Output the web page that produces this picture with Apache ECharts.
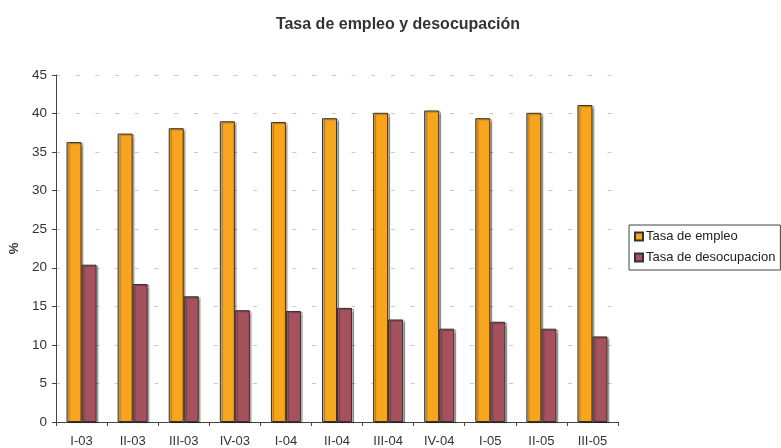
<!DOCTYPE html>
<html><head><meta charset="utf-8">
<script src="https://cdn.jsdelivr.net/npm/echarts@6/dist/echarts.min.js"></script>
<style>html,body{margin:0;padding:0;background:#fff}#c{width:781px;height:448px}</style>
</head><body><div id="c"></div>
<script>
var categories = ["I-03","II-03","III-03","IV-03","I-04","II-04","III-04","IV-04","I-05","II-05","III-05"];
var empleo = [36.3,37.4,38.1,39.0,38.9,39.4,40.1,40.4,39.4,40.1,41.1];
var desocupacion = [20.4,17.9,16.3,14.5,14.4,14.8,13.3,12.1,13.0,12.1,11.1];
var seriesNames = ["Tasa de empleo","Tasa de desocupacion"];
var titleText = "Tasa de empleo y desocupación";

var chart = echarts.init(document.getElementById('c'), null, {renderer:'canvas'});
var font = "Liberation Sans, Arial, sans-serif";
var barStyle = function(c){ return {color:c, borderColor:'#333', borderWidth:1, shadowColor:'rgba(0,0,0,0.3)', shadowOffsetX:2, shadowOffsetY:1, shadowBlur:1}; };
chart.setOption({
  animation:false,
  textStyle:{fontFamily:font},
  title:{text:titleText, left:393, top:12, textAlign:'center', textStyle:{fontSize:16, fontWeight:'bold', color:'#333', fontFamily:font}},
  legend:{orient:'vertical', left:629, top:225, itemWidth:8, itemHeight:8, itemGap:8, padding:[5,5,6,5],
    borderColor:'#444', borderWidth:1, icon:'rect',
    textStyle:{fontSize:13, color:'#222', fontFamily:font, padding:[0,0,0,-2]},
    data:seriesNames},
  grid:{left:56, right:163, top:75, bottom:25, containLabel:false},
  xAxis:{type:'category', data:categories, boundaryGap:true,
    axisLine:{lineStyle:{color:'#444', width:1}},
    axisTick:{show:true, length:4, alignWithLabel:false, lineStyle:{color:'#444'}},
    axisLabel:{fontSize:13, color:'#333', margin:13, fontFamily:font}},
  yAxis:{type:'value', min:0, max:45, interval:5, name:'%', nameLocation:'middle', nameGap:32, nameRotate:90,
    nameTextStyle:{fontSize:13, fontWeight:'bold', color:'#333', fontFamily:font},
    axisLine:{show:true, lineStyle:{color:'#444', width:1}},
    axisTick:{show:true, length:4, lineStyle:{color:'#444'}},
    axisLabel:{fontSize:13.5, color:'#333', margin:9, fontFamily:font},
    splitLine:{show:true, lineStyle:{color:'#cfc6c6', width:1, type:[4,15.7]}}},
  series:[
    {name:seriesNames[0], type:'bar', data:empleo, barWidth:15, barGap:'0%', itemStyle:barStyle('#F7A51E')},
    {name:seriesNames[1], type:'bar', data:desocupacion, barWidth:15, barGap:'0%', itemStyle:barStyle('#A6515E')}
  ]
});
</script></body></html>
